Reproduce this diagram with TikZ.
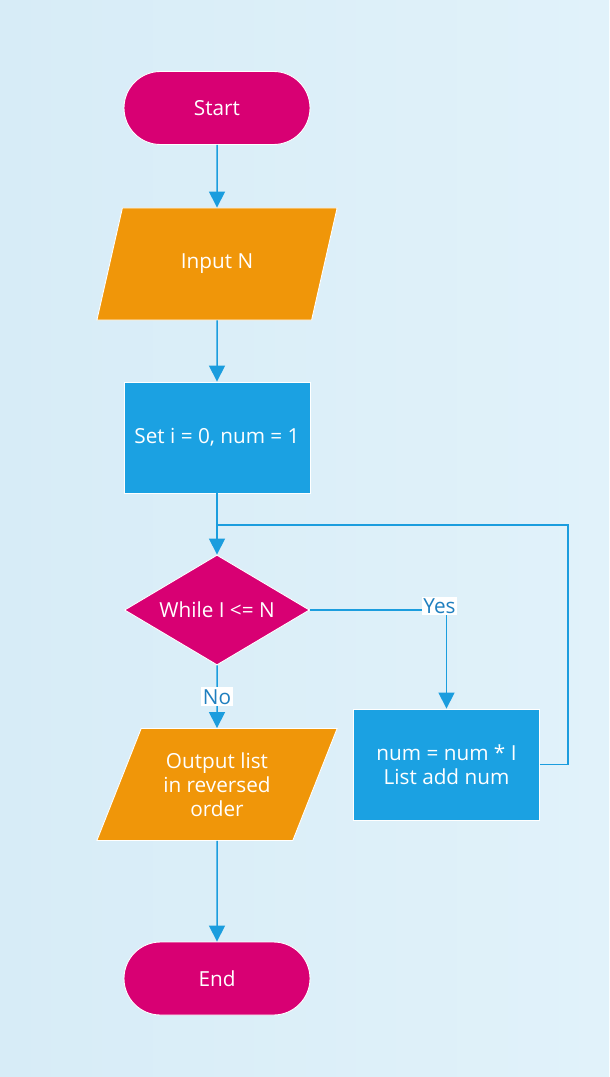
\documentclass[tikz,border=0pt]{standalone}
\usepackage{fontspec}
\setmainfont{Open Sans}
\usetikzlibrary{arrows.meta,shapes.geometric,shapes.misc}
\definecolor{bgleft}{HTML}{D7ECF7}
\definecolor{bgright}{HTML}{E1F2FA}
\definecolor{termcol}{HTML}{D80073}
\definecolor{iocol}{HTML}{F09609}
\definecolor{proccol}{HTML}{1BA1E2}
\definecolor{linecol}{HTML}{1B9DDE}
\definecolor{labcol}{HTML}{1F7FBF}
\tikzset{
  base/.style={draw=white, line width=0.5pt, text=white, align=center,
    font=\fontsize{11.8}{13.6}\selectfont, inner sep=0pt},
  term/.style={base, fill=termcol, rectangle, rounded corners=0.73cm,
    minimum width=3.72cm, minimum height=1.46cm},
  iobox/.style={base, fill=iocol, trapezium, trapezium stretches=true,
    trapezium left angle=63.8, trapezium right angle=116.2,
    minimum width=4.82cm, minimum height=2.24cm},
  procbox/.style={base, fill=proccol, rectangle,
    minimum width=3.72cm, minimum height=2.22cm},
  decbox/.style={base, fill=termcol, diamond, aspect=1.68,
    minimum width=3.7cm, minimum height=2.2cm},
  flow/.style={draw=linecol, line width=0.85pt,
    -{Triangle[width=0.32cm,length=0.32cm]}},
  link/.style={draw=linecol, line width=0.85pt},
  lab/.style={fill=white, text=labcol, inner sep=1pt,
    font=\fontsize{11.8}{13}\selectfont}
}
\begin{document}
\begin{tikzpicture}
\shade[left color=bgleft, right color=bgright] (0,0) rectangle (12.18,-21.54); % background
\useasboundingbox (0,0) rectangle (12.18,-21.54);
\node[term] (start) at (4.34,-2.16) {Start}; % Start
\node[iobox] (input) at (4.34,-5.28) {Input N}; % Input
\node[procbox] (init) at (4.34,-8.75) {Set i = 0, num = 1}; % Init
\node[decbox] (test) at (4.34,-12.2) {While I <= N}; % Loop test
\node[procbox] (body) at (8.93,-15.29) {num = num * I\\List add num}; % Loop body
\node[iobox] (output) at (4.34,-15.69) {Output list\\in reversed\\order}; % Output
\node[term] (stop) at (4.34,-19.57) {End}; % End
\coordinate (join) at (4.34,-10.5); % loop return
\draw[flow] (start) -- (input);
\draw[flow] (input) -- (init);
\draw[flow] (init) -- (test);
\draw[link] (body.east) -- ++(0.56,0) |- (join);
\draw[flow] (test.east) -| node[lab, pos=0.5, xshift=-0.14cm, yshift=0.08cm] {Yes} (body.north);
\draw[flow] (test.south) -- node[lab] {No} (output.north);
\draw[flow] (output.south) -- (stop.north);
\end{tikzpicture}
\end{document}
